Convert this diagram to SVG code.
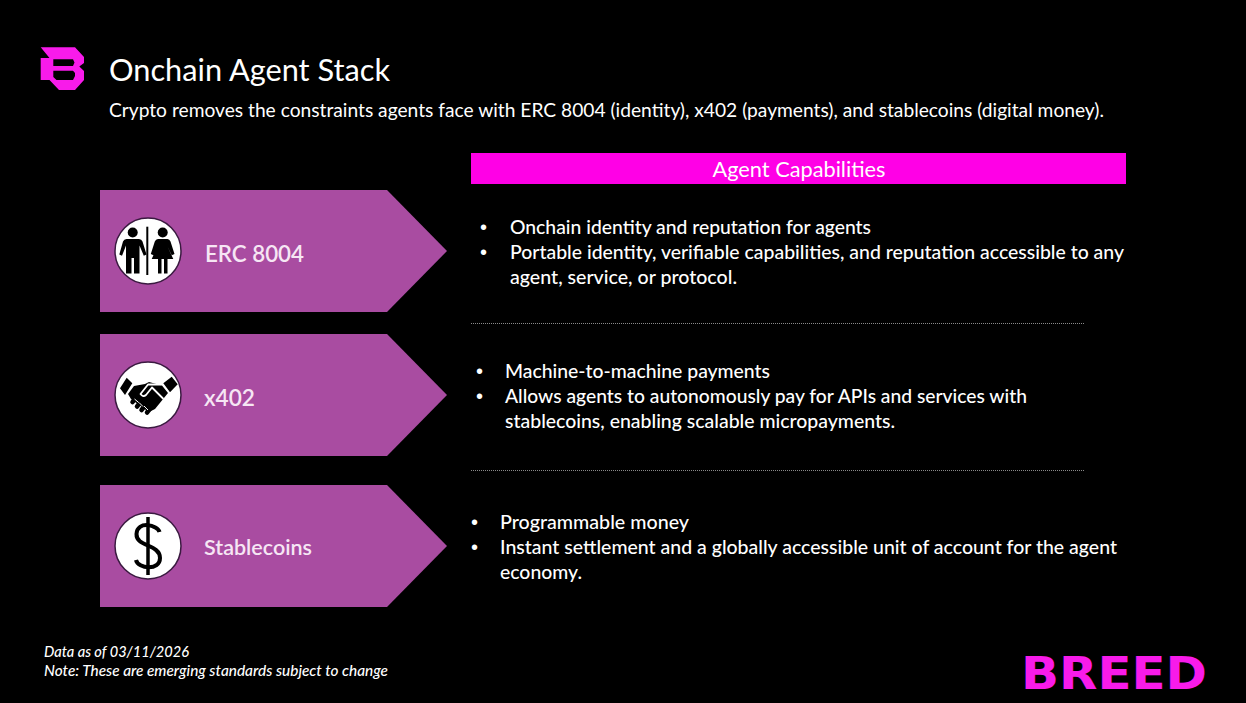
<svg xmlns="http://www.w3.org/2000/svg" width="1246" height="703" viewBox="0 0 1246 703">
<style>
text{font-family:"Lato","Carlito","Open Sans",sans-serif;fill:#fff}
.b{font-size:20px;font-weight:500}
.d{font-size:20px;font-family:"Liberation Sans",sans-serif}
.lab{font-size:22.500px;font-weight:600;fill:#f6e6f4}
.arrow{fill:#a94ca1}
.disc{fill:#fff;stroke:#3a1a40;stroke-width:1.500}
.foot{font-size:14.500px;font-style:italic;font-weight:500}
.rule{stroke:#8a8a8a;stroke-width:1;stroke-dasharray:1 1}
</style>
<rect width="1246" height="703" fill="#000"/>
<g id="logo-mark"><path fill="#f81bea" fill-rule="evenodd" d="M40.700 47.300H75L84 57V63L79.300 66.500L84 71V80L75 90H59L49.500 80H40.700V58H49.500ZM53.300 59.300V66H73L74.500 62.500L73 59.300ZM53.300 70.700V77L56.500 80H73L75 76V73L73 70.700Z"/></g>
<text x="109" y="81" font-size="31" textLength="281" lengthAdjust="spacingAndGlyphs">Onchain Agent Stack</text>
<text x="109" y="117" font-size="19.500" textLength="995" lengthAdjust="spacingAndGlyphs">Crypto removes the constraints agents face with ERC 8004 (identity), x402 (payments), and stablecoins (digital money).</text>
<g id="header"><rect x="471" y="153" width="655" height="31" fill="#ff00e6"/><text x="799" y="177" font-size="22" text-anchor="middle" textLength="173" lengthAdjust="spacingAndGlyphs">Agent Capabilities</text></g>
<g id="node-erc8004">
<path class="arrow" d="M100 190H387L447 251L387 312H100Z"/>
<circle class="disc" cx="148" cy="251" r="33"/>
<g fill="#000">
<circle cx="132.700" cy="232.500" r="5"/>
<path d="M126.500 239H139Q141.500 239 142.500 241.500L146.500 254.500L143.800 255.800L139.500 245.500V273.500H134V258H131.500V273.500H126V245.500L122 255.800L119.300 254.500L123 241.500Q124 239 126.500 239Z"/>
<rect x="146.300" y="226.700" width="2" height="48.300"/>
<circle cx="162.700" cy="232.500" r="5"/>
<path d="M158 239H167.500Q169.500 239 170.500 241.500L174.500 254L171.800 255.300L167.500 246.500L173.300 259H167.500V273.500H164V259H161.500V273.500H158V259H151.700L157.500 246.500L153.500 255.300L150.800 254L154.800 241.500Q155.800 239 158 239Z"/>
</g>
<text class="lab" x="205" y="262" textLength="99" lengthAdjust="spacingAndGlyphs">ERC 8004</text>
</g>
<g id="node-x402">
<path class="arrow" d="M100 334H387L447 395L387 456H100Z"/>
<circle class="disc" cx="148" cy="395" r="33"/>
<g>
<path fill="#000" d="M126.700 377.700L132.300 383.300L125 395L120 388.300Z M171.700 376.700L177.700 384.300L170 392.300L163.300 383.300Z"/>
<path fill="#000" d="M134 386L145 384L149 382L162 385.500L168 393L155 409L149 412L146 410L131 399L128 394Z"/>
<path fill="none" stroke="#fff" stroke-width="1.800" stroke-linejoin="round" stroke-linecap="round" d="M163 398.500L152 387.500L146 395Q143 397.500 140.500 394L148 384.500L161 384.500"/>
<path fill="none" stroke="#000" stroke-width="4.500" stroke-linecap="round" d="M136 398L132.500 402M140.500 402L137 406.500M145 405.500L141.500 410M150.500 408L147 412.500"/>
<path fill="none" stroke="#fff" stroke-width="1" d="M138.700 402.500L134.500 399M143 406.500L139 402.500M148 410L144 406"/>
</g>
<text class="lab" x="204" y="406" textLength="51" lengthAdjust="spacingAndGlyphs">x402</text>
</g>
<g id="node-stablecoins">
<path class="arrow" d="M100 485H387L447 546L387 607H100Z"/>
<circle class="disc" cx="148" cy="546" r="33"/>
<path fill="none" stroke="#000" stroke-width="3.500" d="M148 517V575"/>
<path fill="none" stroke="#000" stroke-width="4" d="M159.500 532C158 525 137 520 136.500 534C136 547 160 544 160 558C160 571 138 569 136 560"/>
<text class="lab" x="204" y="555" style="font-size:21.500px" textLength="108" lengthAdjust="spacingAndGlyphs">Stablecoins</text>
</g>
<g id="text-erc8004">
<text class="d" x="480" y="234">•</text><text class="b" x="510" y="234" textLength="361" lengthAdjust="spacingAndGlyphs">Onchain identity and reputation for agents</text>
<text class="d" x="480" y="259">•</text><text class="b" x="510" y="259" textLength="614" lengthAdjust="spacingAndGlyphs">Portable identity, verifiable capabilities, and reputation accessible to any</text>
<text class="b" x="510" y="284" textLength="227" lengthAdjust="spacingAndGlyphs">agent, service, or protocol.</text>
</g>
<g id="text-x402">
<text class="d" x="476" y="378">•</text><text class="b" x="505" y="378" textLength="265" lengthAdjust="spacingAndGlyphs">Machine-to-machine payments</text>
<text class="d" x="476" y="403">•</text><text class="b" x="505" y="403" textLength="522" lengthAdjust="spacingAndGlyphs">Allows agents to autonomously pay for APIs and services with</text>
<text class="b" x="505" y="428" textLength="390" lengthAdjust="spacingAndGlyphs">stablecoins, enabling scalable micropayments.</text>
</g>
<g id="text-stablecoins">
<text class="d" x="471" y="529">•</text><text class="b" x="500" y="529" textLength="189" lengthAdjust="spacingAndGlyphs">Programmable money</text>
<text class="d" x="471" y="554">•</text><text class="b" x="500" y="554" textLength="617" lengthAdjust="spacingAndGlyphs">Instant settlement and a globally accessible unit of account for the agent</text>
<text class="b" x="500" y="579" textLength="82" lengthAdjust="spacingAndGlyphs">economy.</text>
</g>
<g id="connectors"><line class="rule" x1="471" y1="323.500" x2="1084" y2="323.500"/><line class="rule" x1="471" y1="470.500" x2="1084" y2="470.500"/></g>
<text class="foot" x="44" y="657" textLength="145" lengthAdjust="spacingAndGlyphs">Data as of 03/11/2026</text>
<text class="foot" x="44" y="676" textLength="344" lengthAdjust="spacingAndGlyphs">Note: These are emerging standards subject to change</text>
<text id="wordmark" x="1021" y="689" style="font-family:'DejaVu Sans',sans-serif;fill:#f81bea" font-size="45" font-weight="700" textLength="186" lengthAdjust="spacingAndGlyphs">BREED</text>
</svg>
